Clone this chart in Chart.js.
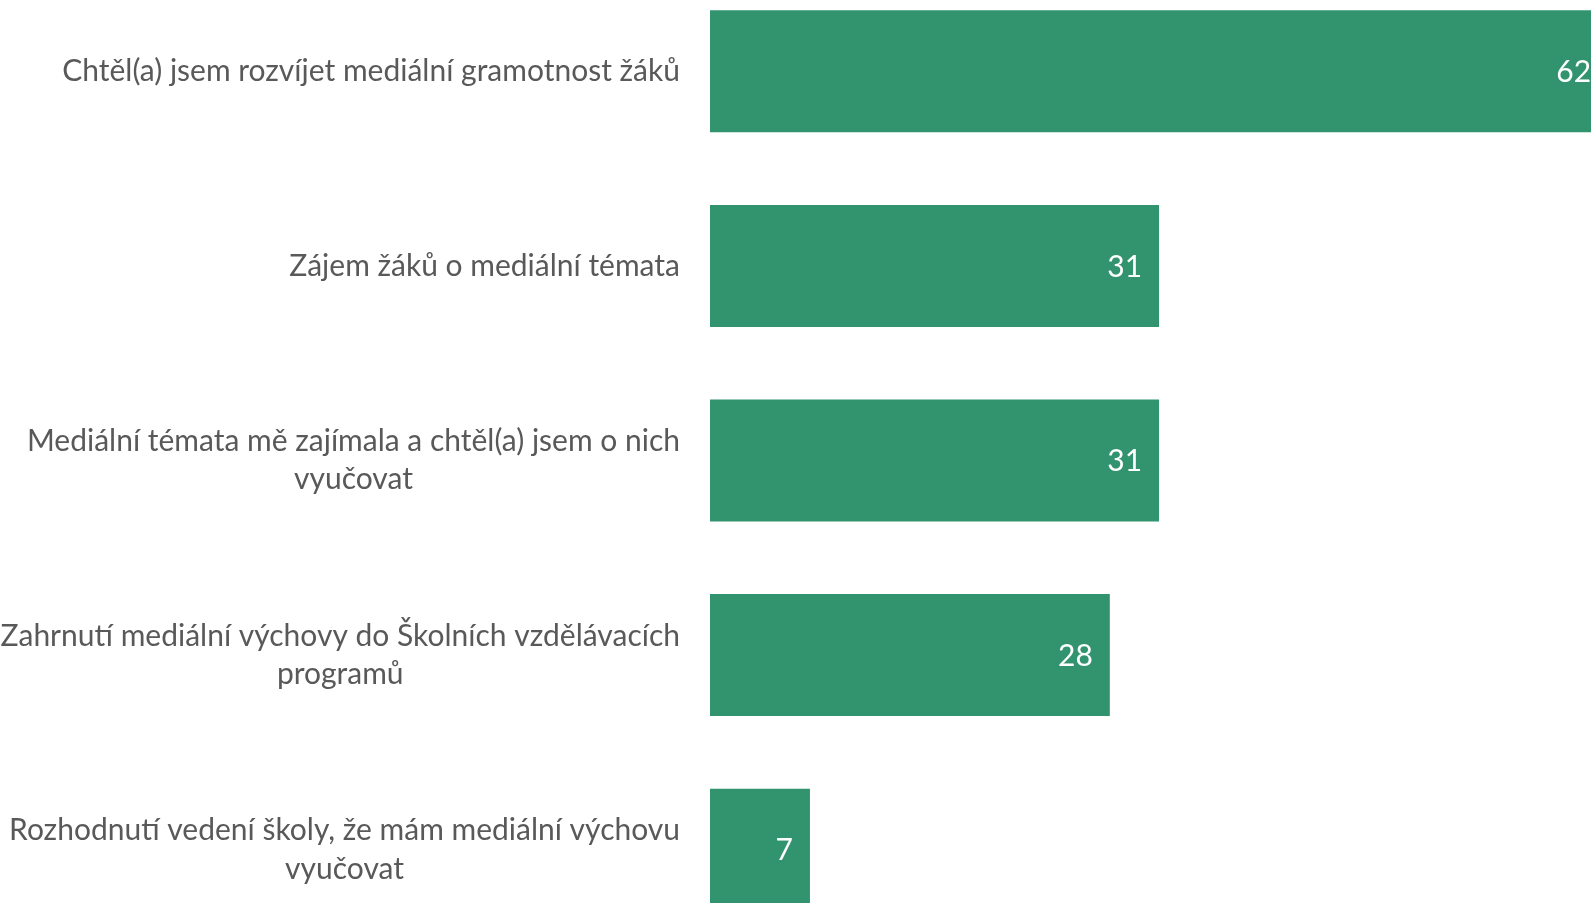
<!DOCTYPE html>
<html lang="cs">

<head>
    <meta charset="UTF-8">
    <meta name="viewport" content="width=device-width, initial-scale=1.0">
    <script src="https://cdn.jsdelivr.net/npm/chart.js@4.4.1/dist/chart.umd.min.js"></script>
    <title>Důvody výuky mediální výchovy</title>
    <style>
        html, body { margin: 0; padding: 0; background: #fff; overflow: hidden; width: 1591px; height: 903px; }
        /* graf je v originale oriznuty vpravo i dole */
        #wrap { position: absolute; left: 0; top: -26px; width: 1724px; height: 973px; }
    </style>
</head>

<body>
    <div id="wrap">
        <canvas id="myChart"></canvas>
    </div>
    <script>
        const categories = [
            ['Chtěl(a) jsem rozvíjet mediální gramotnost žáků'],
            ['Zájem žáků o mediální témata'],
            ['Mediální témata mě zajímala a chtěl(a) jsem o nich', 'vyučovat'],
            ['Zahrnutí mediální výchovy do Školních vzdělávacích', 'programů'],
            ['Rozhodnutí vedení školy, že mám mediální výchovu', 'vyučovat']
        ];
        const values = [62, 31, 31, 27.6, 6.9];

        const barColor = '#32936f';
        const labelFont = '30px Lato';
        const valueFont = '30px Lato';

        // popisky kategorii: blok zarovnany vpravo, radky na stred
        const catLabels = {
            id: 'catLabels',
            afterDraw(chart) {
                const c = chart.ctx;
                const y = chart.scales.y;
                const rightX = y.right - 30;
                const lh = 38.5;
                c.save();
                c.font = labelFont;
                c.fillStyle = '#595959';
                c.textAlign = 'center';
                c.textBaseline = 'middle';
                categories.forEach(function (lines, i) {
                    const py = y.getPixelForTick(i);
                    let w = 0;
                    lines.forEach(function (l) { w = Math.max(w, c.measureText(l).width); });
                    const cx = rightX - w / 2;
                    lines.forEach(function (l, k) {
                        c.fillText(l, cx, py + (k - (lines.length - 1) / 2) * lh);
                    });
                });
                c.restore();
            }
        };

        // hodnoty uvnitr konce sloupce
        const valueLabels = {
            id: 'valueLabels',
            afterDatasetsDraw(chart) {
                const c = chart.ctx;
                const meta = chart.getDatasetMeta(0);
                c.save();
                c.font = valueFont;
                c.fillStyle = '#ffffff';
                c.textAlign = 'right';
                c.textBaseline = 'middle';
                meta.data.forEach(function (bar, i) {
                    c.fillText(String(Math.round(values[i])), bar.x - 17, bar.y + 1);
                });
                c.restore();
            }
        };

        const ctx = document.getElementById('myChart').getContext('2d');
        const myChart = new Chart(ctx, {
            type: 'bar',
            data: {
                labels: categories,
                datasets: [{
                    data: values,
                    backgroundColor: barColor,
                    borderWidth: 0,
                    categoryPercentage: 1,
                    barPercentage: 0.627
                }]
            },
            options: {
                indexAxis: 'y',
                responsive: true,
                maintainAspectRatio: false,
                animation: false,
                layout: { padding: 0 },
                plugins: {
                    legend: { display: false },
                    tooltip: { enabled: false }
                },
                scales: {
                    x: {
                        display: false,
                        min: 0,
                        max: 70
                    },
                    y: {
                        grid: { display: false, drawTicks: false },
                        border: { display: false },
                        ticks: { display: false },
                        afterFit: function (scale) { scale.width = 710; }
                    }
                }
            },
            plugins: [catLabels, valueLabels]
        });
    </script>

</body>

</html>
